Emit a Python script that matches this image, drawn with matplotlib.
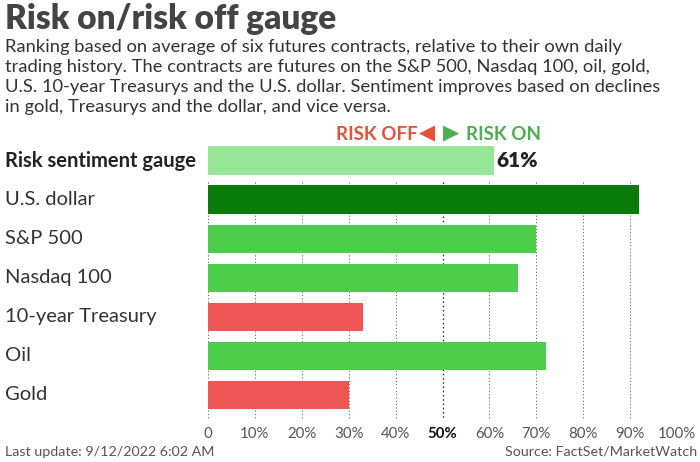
import matplotlib.pyplot as plt
from matplotlib.transforms import blended_transform_factory

plt.rcParams['font.family'] = ['Lato', 'DejaVu Sans']

# data
labels = ['Risk sentiment gauge', 'U.S. dollar', 'S&P 500', 'Nasdaq 100',
          '10-year Treasury', 'Oil', 'Gold']
values = [61, 92, 70, 66, 33, 72, 30]
colors = ['#98e698', '#0a7a0a', '#4ccd4c', '#4ccd4c', '#ee5555', '#4ccd4c', '#ee5555']
ticks = [0, 10, 20, 30, 40, 50, 60, 70, 80, 90, 100]
tick_labels = ['0', '10%', '20%', '30%', '40%', '50%', '60%', '70%', '80%', '90%', '100%']

fig = plt.figure(figsize=(7, 4.62), dpi=100)
ax = fig.add_axes([208 / 700, 42 / 462, 469 / 700, 279 / 462])

ypos = list(range(len(labels)))
ax.set_xlim(0, 100)
ax.set_ylim(6.65, -0.5)

# dotted grid lines (not through the gauge row)
for t in ticks:
    ax.vlines(t, 0.55, 6.65, colors='#222222' if t == 50 else '#666666',
              linestyles=(0, (1.2, 2.2)), linewidth=0.9 if t == 50 else 0.7, zorder=1)

ax.barh(ypos, values, height=0.72, color=colors, zorder=2)

for s in ax.spines.values():
    s.set_visible(False)
ax.set_yticks([])
ax.set_xticks(ticks)
ax.set_xticklabels(tick_labels)
ax.tick_params(axis='x', length=0, pad=5, labelsize=10.8, labelcolor='#555555')
ax.get_xticklabels()[5].set_color('#111111')
ax.get_xticklabels()[5].set_fontweight('bold')

# row labels
tr = blended_transform_factory(fig.transFigure, ax.transData)
for i, lab in enumerate(labels):
    ax.text(5 / 700, i, lab, transform=tr, ha='left', va='center', fontsize=14.5,
            color='#222222' if i == 0 else '#333333',
            fontweight='bold' if i == 0 else 'normal')

ax.text(values[0] + 0.5, 0, f'{values[0]}%', ha='left', va='center', fontsize=15,
        fontweight='heavy', color='#222222')

# risk off / risk on header
hy = -0.66
ax.text(44.8, hy, 'RISK OFF', ha='right', va='center', fontsize=13.5,
        fontweight='bold', color='#e8503a', clip_on=False)
ax.text(46.6, hy - 0.03, '◀', ha='center', va='center', fontsize=15,
        family='DejaVu Sans', color='#e8503a', clip_on=False)
ax.text(51.8, hy - 0.03, '▶', ha='center', va='center', fontsize=15,
        family='DejaVu Sans', color='#4caf50', clip_on=False)
ax.text(55.0, hy, 'RISK ON', ha='left', va='center', fontsize=13.5,
        fontweight='bold', color='#4caf50', clip_on=False)

# title and subtitle
fig.text(5 / 700, 1 - 19 / 462, 'Risk on/risk off gauge', ha='left', va='center',
         fontsize=24, fontweight='heavy', color='#444444')
subtitle = ('Ranking based on average of six futures contracts, relative to their own daily\n'
            'trading history. The contracts are futures on the S&P 500, Nasdaq 100, oil, gold,\n'
            'U.S. 10-year Treasurys and the U.S. dollar. Sentiment improves based on declines\n'
            'in gold, Treasurys and the dollar, and vice versa.')
fig.text(5 / 700, 1 - 39 / 462, subtitle, ha='left', va='top', fontsize=13.2,
         color='#333333', linespacing=1.32)

# footer
fig.text(5 / 700, 1 - 452 / 462, 'Last update: 9/12/2022 6:02 AM', ha='left',
         va='center', fontsize=10.3, color='#555555')
fig.text(697 / 700, 1 - 452 / 462, 'Source: FactSet/MarketWatch', ha='right',
         va='center', fontsize=10.3, color='#555555')

fig.savefig('out.png', dpi=100)
